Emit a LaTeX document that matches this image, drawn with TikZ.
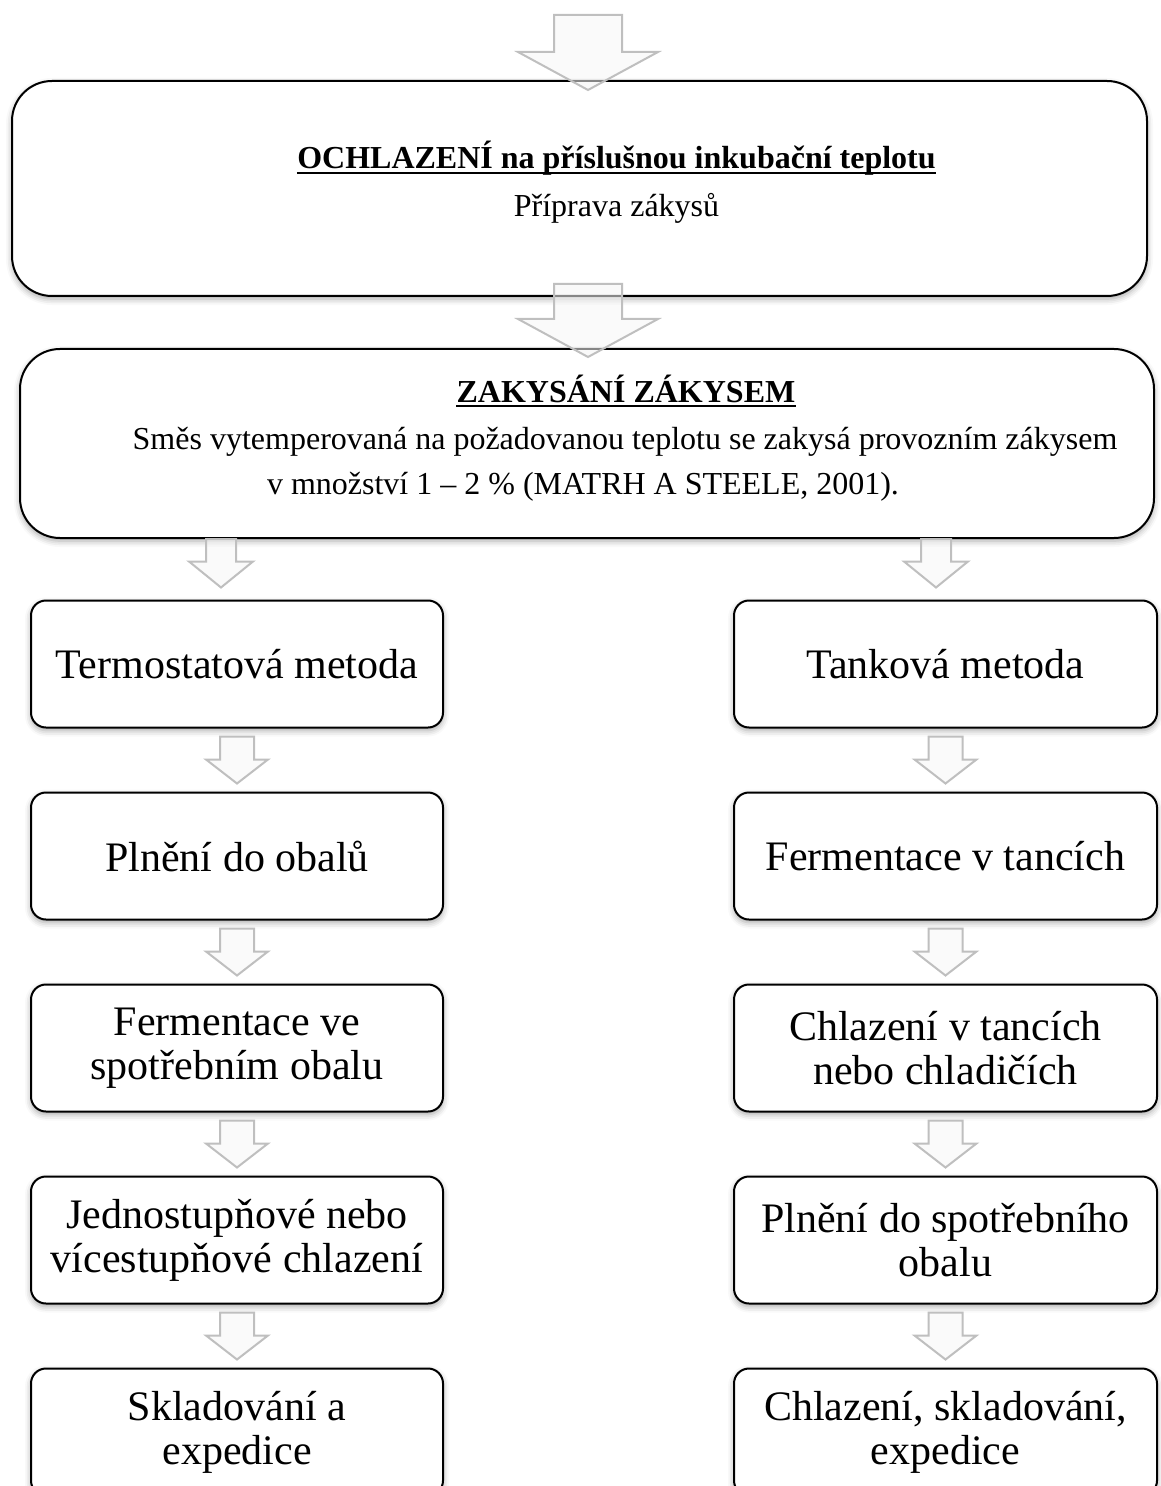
\documentclass[tikz,border=0pt]{standalone}
\usepackage{fontspec}
\setmainfont{Liberation Serif}
\usetikzlibrary{positioning,calc,shadows.blur}

\tikzset{
	bigbox/.style={draw, line width=1pt, fill=white, rounded corners=20pt,
		blur shadow={shadow xshift=0pt, shadow yshift=-1.5pt, shadow blur radius=3pt, shadow opacity=35}},
	stepbox/.style={draw, line width=1pt, fill=white, rounded corners=7.5pt,
		minimum height=63.5pt, align=center, font=\fontsize{21}{22}\selectfont,
		blur shadow={shadow xshift=0pt, shadow yshift=-1.5pt, shadow blur radius=3pt, shadow opacity=35}},
	head/.style={font=\fontsize{16}{20}\selectfont\bfseries, inner sep=0pt},
	body/.style={font=\fontsize{16}{20}\selectfont},
	uline/.style={line width=0.9pt},
	blk/.style={draw=gray!50, line width=1pt, fill=gray!8, fill opacity=0.55}
}

% block arrow: top, tip, shaft half width, head half width, head length
\newcommand{\blkarrow}[5]{%
	\draw[blk] ($(#1)+(-#3,0)$) -- ($(#2)+(-#3,-#5)$) -- ($(#2)+(-#4,-#5)$) -- (#2)
	-- ($(#2)+(#4,-#5)$) -- ($(#2)+(#3,-#5)$) -- ($(#1)+(#3,0)$) -- cycle;}

\begin{document}
\begin{tikzpicture}[x=0.5pt, y=-0.5pt]
	\useasboundingbox (0,0) rectangle (1160,1486);
	
	% top part
	\node[bigbox, minimum width=567.5pt, minimum height=107.5pt] (cool) at (579.5,188.5) {};
	\node[head] (coolhd) at ($(cool.center)+(37,-30)$) {OCHLAZENÍ na příslušnou inkubační teplotu};
	\draw[uline] ($(coolhd.base west)+(0,4)$) -- ($(coolhd.base east)+(0,4)$);
	\node[body] (coolsub) at ($(cool.center)+(37,20)$) {Příprava zákysů};
	
	\node[bigbox, minimum width=567pt, minimum height=94.5pt] (acid) at (587,443.5) {};
	\node[head] (acidhd) at ($(acid.center)+(39,-55)$) {ZAKYSÁNÍ ZÁKYSEM};
	\draw[uline] ($(acidhd.base west)+(0,4)$) -- ($(acidhd.base east)+(0,4)$);
	\node[body] (acidl1) at ($(acid.center)+(38,-2)$) {Směs vytemperovaná na požadovanou teplotu se zakysá provozním zákysem};
	\node[body] (acidl2) at ($(acid.center)+(-4,43)$) {v množství 1 – 2 \% (MATRH A STEELE, 2001).};
	
	% left column
	\node[stepbox, minimum width=206pt] (t1) at (237,664) {Termostatová metoda};
	\node[stepbox, minimum width=206pt, below=31.5pt of t1] (t2) {Plnění do obalů};
	\node[stepbox, minimum width=206pt, below=31.5pt of t2] (t3) {Fermentace ve\\spotřebním obalu};
	\node[stepbox, minimum width=206pt, below=31.5pt of t3] (t4) {Jednostupňové nebo\\vícestupňové chlazení};
	\node[stepbox, minimum width=206pt, below=31.5pt of t4] (t5) {Skladování a\\expedice};
	
	% right column
	\node[stepbox, minimum width=211.5pt] (k1) at (945.5,664) {Tanková metoda};
	\node[stepbox, minimum width=211.5pt, below=31.5pt of k1] (k2) {Fermentace v tancích};
	\node[stepbox, minimum width=211.5pt, below=31.5pt of k2] (k3) {Chlazení v tancích\\nebo chladičích};
	\node[stepbox, minimum width=211.5pt, below=31.5pt of k3] (k4) {Plnění do spotřebního\\obalu};
	\node[stepbox, minimum width=211.5pt, below=31.5pt of k4] (k5) {Chlazení, skladování,\\expedice};
	
	% arrows
	\coordinate (in) at (588,15);
	\coordinate (intip) at ($(in |- cool.north)+(0,10)$);
	\blkarrow{in}{intip}{34}{70}{38}
	\coordinate (mid) at ($(in |- cool.south)+(0,-13)$);
	\coordinate (midtip) at ($(in |- acid.north)+(0,9)$);
	\blkarrow{mid}{midtip}{34}{70}{38}
	
	\coordinate (lt) at ($(acid.south -| t1.north)+(-16,0)$);
	\coordinate (ltip) at ($(t1.north)+(-16,-12)$);
	\blkarrow{lt}{ltip}{15}{32}{26}
	\coordinate (rt) at ($(acid.south -| k1.north)+(-9.5,0)$);
	\coordinate (rtip) at ($(k1.north)+(-9.5,-12)$);
	\blkarrow{rt}{rtip}{15}{32}{26}
	
	\foreach \a/\b in {t1/t2,t2/t3,t3/t4,t4/t5,k1/k2,k2/k3,k3/k4,k4/k5}{
		\coordinate (p) at ($(\a.south)+(0,8)$);
		\coordinate (q) at ($(\b.north)+(0,-8)$);
		\blkarrow{p}{q}{17}{31}{24}
	}
	
\end{tikzpicture}
\end{document}
